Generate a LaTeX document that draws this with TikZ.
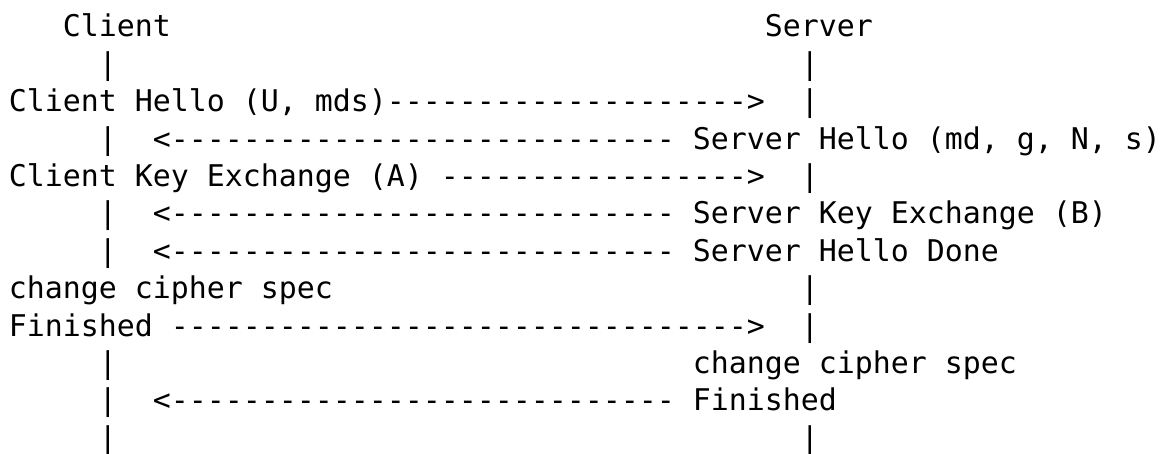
\documentclass[tikz,border=0pt]{standalone}
\usepackage{fontspec}
\newfontfamily\monof{DejaVu Sans Mono}
\newcommand\dashrun[1]{\foreach \k in {1,...,#1}{-}}
\frenchspacing
\begin{document}
\begin{tikzpicture}[x=9pt, y=18.7pt,
  txt/.style={inner sep=0pt, outer sep=0pt, anchor=base west,
    font=\monof\fontsize{14.95pt}{18pt}\selectfont}]
\useasboundingbox (-0.5,0.989) rectangle (64.56,-11.15);
% row 1
\node[txt] (chead) at (3,0) {Client};
\node[txt] (shead) at (42,0) {Server};
% row 2
\node[txt] (cl2) at (5,-1) {|};
\node[txt] (sl2) at (44,-1) {|};
% row 3
\node[txt] (m3) at (0,-2) {Client Hello (U, mds)};
\node[txt] (a3) at (21,-2) {\dashrun{20}>};
\node[txt] (sl3) at (44,-2) {|};
% row 4
\node[txt] (cl4) at (5,-3) {|};
\node[txt] (a4) at (8,-3) {<\dashrun{28}};
\node[txt] (m4) at (38,-3) {Server Hello (md, g, N, s)};
% row 5
\node[txt] (m5) at (0,-4) {Client Key Exchange (A)};
\node[txt] (a5) at (24,-4) {\dashrun{17}>};
\node[txt] (sl5) at (44,-4) {|};
% row 6
\node[txt] (cl6) at (5,-5) {|};
\node[txt] (a6) at (8,-5) {<\dashrun{28}};
\node[txt] (m6) at (38,-5) {Server Key Exchange (B)};
% row 7
\node[txt] (cl7) at (5,-6) {|};
\node[txt] (a7) at (8,-6) {<\dashrun{28}};
\node[txt] (m7) at (38,-6) {Server Hello Done};
% row 8
\node[txt] (m8) at (0,-7) {change cipher spec};
\node[txt] (sl8) at (44,-7) {|};
% row 9
\node[txt] (m9) at (0,-8) {Finished};
\node[txt] (a9) at (9,-8) {\dashrun{32}>};
\node[txt] (sl9) at (44,-8) {|};
% row 10
\node[txt] (cl10) at (5,-9) {|};
\node[txt] (m10) at (38,-9) {change cipher spec};
% row 11
\node[txt] (cl11) at (5,-10) {|};
\node[txt] (a11) at (8,-10) {<\dashrun{28}};
\node[txt] (m11) at (38,-10) {Finished};
% row 12
\node[txt] (cl12) at (5,-11) {|};
\node[txt] (sl12) at (44,-11) {|};
\end{tikzpicture}
\end{document}
